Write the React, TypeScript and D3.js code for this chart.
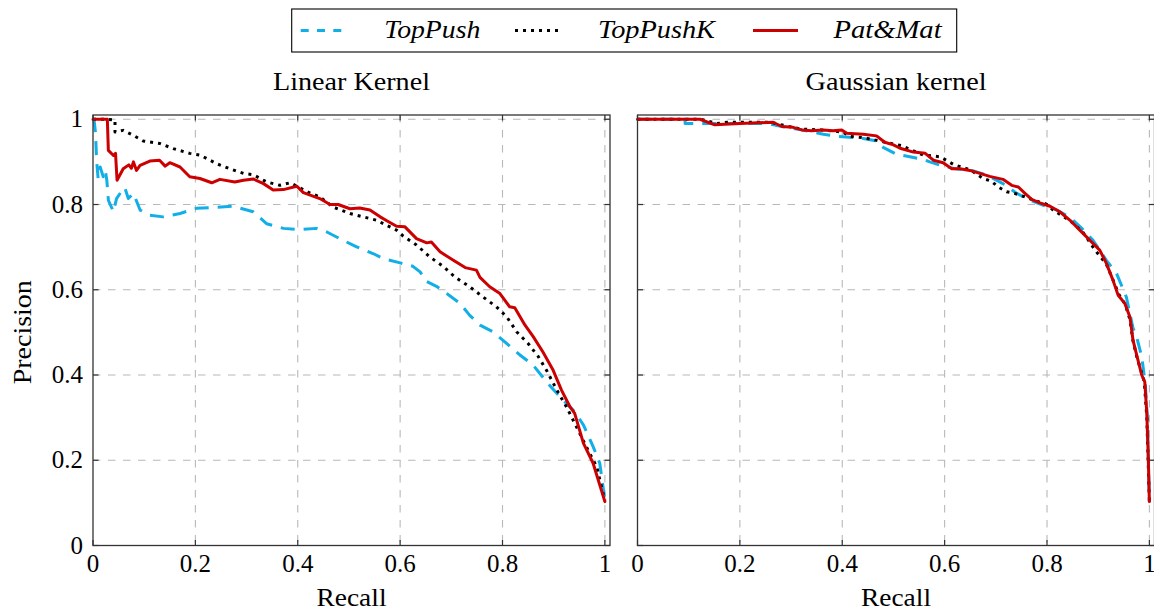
import React from "react";
import * as d3 from "d3";

// ---------- data ----------
const tickValues = [0, 0.2, 0.4, 0.6, 0.8, 1];
const tickLabels = ["0", "0.2", "0.4", "0.6", "0.8", "1"];
const seriesNames = ["TopPush", "TopPushK", "Pat&Mat"];
const panelTitles = ["Linear Kernel", "Gaussian kernel"];

// Linear kernel: [recall, precision]
const linearTopPush: [number, number][] = [
  [0, 1], [0.002, 1], [0.005, 0.966], [0.007, 0.904], [0.01, 0.861], [0.014, 0.888],
  [0.02, 0.865], [0.024, 0.88], [0.027, 0.857], [0.03, 0.81], [0.036, 0.794], [0.04, 0.783],
  [0.046, 0.814], [0.055, 0.83], [0.062, 0.84], [0.069, 0.814], [0.079, 0.826], [0.092, 0.787],
  [0.111, 0.775], [0.137, 0.771], [0.17, 0.779], [0.202, 0.791], [0.235, 0.793], [0.274, 0.796],
  [0.313, 0.783], [0.339, 0.755], [0.372, 0.744], [0.404, 0.741], [0.437, 0.744], [0.456, 0.736],
  [0.482, 0.72], [0.514, 0.701], [0.547, 0.685], [0.567, 0.673], [0.6, 0.663], [0.625, 0.655],
  [0.639, 0.642], [0.652, 0.619], [0.671, 0.608], [0.691, 0.591], [0.717, 0.568], [0.736, 0.54],
  [0.756, 0.517], [0.782, 0.501], [0.808, 0.474], [0.834, 0.447], [0.86, 0.423], [0.886, 0.384],
  [0.906, 0.357], [0.925, 0.333], [0.941, 0.314], [0.958, 0.283], [0.977, 0.232], [0.99, 0.193],
  [1.0, 0.107],
];
const linearTopPushK: [number, number][] = [
  [0, 1], [0.028, 1], [0.043, 0.998], [0.043, 0.97], [0.059, 0.974], [0.079, 0.962],
  [0.098, 0.949], [0.131, 0.943], [0.157, 0.931], [0.189, 0.92], [0.209, 0.916], [0.222, 0.908],
  [0.241, 0.896], [0.267, 0.884], [0.294, 0.873], [0.313, 0.87], [0.339, 0.853], [0.365, 0.845],
  [0.385, 0.851], [0.398, 0.843], [0.424, 0.827], [0.443, 0.818], [0.469, 0.794], [0.502, 0.779],
  [0.528, 0.771], [0.554, 0.763], [0.574, 0.751], [0.593, 0.74], [0.606, 0.726], [0.632, 0.705],
  [0.658, 0.677], [0.684, 0.655], [0.707, 0.63], [0.736, 0.607], [0.762, 0.583], [0.788, 0.56],
  [0.808, 0.537], [0.828, 0.501], [0.85, 0.474], [0.87, 0.443], [0.886, 0.411], [0.906, 0.365],
  [0.925, 0.325], [0.941, 0.287], [0.967, 0.224], [0.984, 0.185], [1.0, 0.105],
];
const linearPatMat: [number, number][] = [
  [0, 1], [0.028, 1], [0.03, 0.927], [0.04, 0.915], [0.044, 0.92], [0.047, 0.857],
  [0.059, 0.884], [0.07, 0.893], [0.075, 0.885], [0.079, 0.9], [0.085, 0.88], [0.092, 0.892],
  [0.111, 0.902], [0.13, 0.904], [0.141, 0.89], [0.15, 0.898], [0.17, 0.888], [0.189, 0.865],
  [0.209, 0.861], [0.232, 0.851], [0.248, 0.859], [0.277, 0.853], [0.294, 0.857], [0.313, 0.86],
  [0.333, 0.849], [0.352, 0.834], [0.372, 0.835], [0.398, 0.843], [0.411, 0.828], [0.443, 0.814],
  [0.463, 0.8], [0.479, 0.8], [0.502, 0.79], [0.521, 0.792], [0.541, 0.787], [0.561, 0.771],
  [0.574, 0.762], [0.593, 0.749], [0.609, 0.748], [0.632, 0.72], [0.652, 0.71], [0.661, 0.712],
  [0.678, 0.689], [0.704, 0.669], [0.727, 0.652], [0.749, 0.646], [0.756, 0.629], [0.775, 0.607],
  [0.795, 0.591], [0.814, 0.56], [0.824, 0.558], [0.844, 0.517], [0.86, 0.49], [0.879, 0.454],
  [0.899, 0.411], [0.915, 0.365], [0.932, 0.325], [0.941, 0.31], [0.958, 0.24], [0.977, 0.193],
  [1.0, 0.103],
];

// Gaussian kernel: [recall, precision]
const gaussTopPush: [number, number][] = [
  [0, 1], [0.093, 1], [0.093, 0.99], [0.125, 0.99], [0.176, 0.99], [0.254, 0.99],
  [0.282, 0.983], [0.33, 0.973], [0.363, 0.965], [0.389, 0.96], [0.421, 0.957], [0.441, 0.955],
  [0.467, 0.949], [0.48, 0.934], [0.506, 0.918], [0.532, 0.912], [0.558, 0.906], [0.571, 0.9],
  [0.597, 0.89], [0.621, 0.884], [0.656, 0.879], [0.682, 0.869], [0.714, 0.849], [0.741, 0.826],
  [0.767, 0.81], [0.793, 0.798], [0.819, 0.787], [0.845, 0.77], [0.868, 0.744], [0.89, 0.716],
  [0.916, 0.669], [0.936, 0.638], [0.955, 0.583], [0.968, 0.51], [0.975, 0.49], [0.985, 0.443],
  [0.992, 0.38], [0.996, 0.3], [0.998, 0.2], [1.0, 0.103],
];
const gaussTopPushK: [number, number][] = [
  [0, 1], [0.124, 1], [0.155, 0.99], [0.176, 0.993], [0.26, 0.993], [0.295, 0.983],
  [0.32, 0.977], [0.36, 0.975], [0.401, 0.97], [0.415, 0.96], [0.441, 0.957], [0.465, 0.951],
  [0.516, 0.938], [0.558, 0.916], [0.591, 0.912], [0.619, 0.893], [0.651, 0.881], [0.675, 0.861],
  [0.691, 0.855], [0.705, 0.841], [0.721, 0.83], [0.737, 0.826], [0.757, 0.818], [0.779, 0.808],
  [0.799, 0.801], [0.812, 0.787], [0.845, 0.762], [0.87, 0.735], [0.894, 0.693], [0.916, 0.66],
  [0.93, 0.62], [0.94, 0.59], [0.953, 0.565], [0.962, 0.53], [0.968, 0.48], [0.976, 0.44],
  [0.99, 0.385], [0.995, 0.3], [1.0, 0.103],
];
const gaussPatMat: [number, number][] = [
  [0, 1], [0.122, 1], [0.151, 0.987], [0.2, 0.99], [0.265, 0.993], [0.282, 0.983],
  [0.304, 0.981], [0.321, 0.975], [0.34, 0.973], [0.363, 0.975], [0.382, 0.973], [0.399, 0.975],
  [0.409, 0.967], [0.441, 0.965], [0.467, 0.961], [0.483, 0.946], [0.5, 0.94], [0.513, 0.932],
  [0.539, 0.923], [0.562, 0.92], [0.578, 0.904], [0.597, 0.898], [0.614, 0.884], [0.63, 0.884],
  [0.649, 0.88], [0.669, 0.873], [0.688, 0.866], [0.714, 0.859], [0.731, 0.845], [0.744, 0.841],
  [0.757, 0.826], [0.77, 0.812], [0.786, 0.804], [0.806, 0.796], [0.825, 0.783], [0.845, 0.763],
  [0.864, 0.74], [0.884, 0.716], [0.903, 0.693], [0.916, 0.662], [0.929, 0.622], [0.939, 0.587],
  [0.952, 0.568], [0.962, 0.536], [0.968, 0.482], [0.976, 0.443], [0.985, 0.4], [0.991, 0.384],
  [0.995, 0.31], [0.998, 0.2], [1.0, 0.103],
];

// ---------- styles ----------
const W = 1154;
const H = 609;
const FONT = "'Liberation Serif', 'Times New Roman', serif";
const FS = 25;
const seriesStyles = [
  { color: "#12aee8", dash: "14 9", legendDash: "8 8.3", cap: "butt" },
  { color: "#000000", dash: "3 5", legendDash: "3 5", cap: "butt" },
  { color: "#cc0000", dash: "none", legendDash: "none", cap: "round" },
];

const plotTop = 115;
const plotBottom = 545.5;
const plotW = 517;

function Panel({ left, series, title, titleLen, showYLabels, showYTitle }: any) {
  const x = d3.scaleLinear().domain([0, 1.01]).range([left, left + plotW]);
  const y = d3.scaleLinear().domain([0, 1.01]).range([plotBottom, plotTop]);
  const line = d3
    .line<[number, number]>()
    .x((d) => x(d[0]))
    .y((d) => y(d[1]));
  const tl = 5.5;
  const cx = left + plotW / 2;
  return (
    <g>
      {/* grid */}
      {tickValues.map((t, i) =>
        t > 0 ? (
          <g key={"g" + i}>
            <line x1={x(t)} x2={x(t)} y1={plotTop} y2={plotBottom} stroke="#b8b8b8" strokeWidth={1.1} strokeDasharray="7.5 7.5" />
            <line x1={left} x2={left + plotW} y1={y(t)} y2={y(t)} stroke="#b8b8b8" strokeWidth={1.1} strokeDasharray="7.5 7.5" />
          </g>
        ) : null
      )}
      {/* ticks */}
      {tickValues.map((t, i) => (
        <g key={"t" + i} stroke="#333" strokeWidth={1.2}>
          <line x1={x(t)} x2={x(t)} y1={plotBottom} y2={plotBottom - tl} />
          <line x1={x(t)} x2={x(t)} y1={plotTop} y2={plotTop + tl} />
          <line x1={left} x2={left + tl} y1={y(t)} y2={y(t)} />
          <line x1={left + plotW} x2={left + plotW - tl} y1={y(t)} y2={y(t)} />
        </g>
      ))}
      {/* curves */}
      {series.map((s: [number, number][], i: number) => (
        <path
          key={"s" + i}
          d={line(s) || ""}
          fill="none"
          stroke={seriesStyles[i].color}
          strokeWidth={3}
          strokeDasharray={seriesStyles[i].dash}
          strokeLinecap={seriesStyles[i].cap as any}
          strokeLinejoin="round"
        />
      ))}
      {/* frame */}
      <rect x={left} y={plotTop} width={plotW} height={plotBottom - plotTop} fill="none" stroke="#333" strokeWidth={1.3} />
      {/* x tick labels */}
      {tickValues.map((t, i) => (
        <text key={"xl" + i} x={x(t)} y={572} textAnchor="middle" fontFamily={FONT} fontSize={FS}>
          {tickLabels[i]}
        </text>
      ))}
      {showYLabels &&
        tickValues.map((t, i) => (
          <text key={"yl" + i} x={83} y={y(t) + 8} textAnchor="end" fontFamily={FONT} fontSize={FS}>
            {tickLabels[i]}
          </text>
        ))}
      <text
        x={cx}
        y={89.5}
        textAnchor="middle"
        fontFamily={FONT}
        fontSize={FS}
        textLength={titleLen}
        lengthAdjust="spacingAndGlyphs"
      >
        {title}
      </text>
      <text
        x={cx}
        y={606}
        textAnchor="middle"
        fontFamily={FONT}
        fontSize={FS}
        textLength={70}
        lengthAdjust="spacingAndGlyphs"
      >
        Recall
      </text>
      {showYTitle && (
        <text
          transform={`translate(30.5, ${(plotTop + plotBottom) / 2 + 2}) rotate(-90)`}
          textAnchor="middle"
          fontFamily={FONT}
          fontSize={FS}
          textLength={104}
          lengthAdjust="spacingAndGlyphs"
        >
          Precision
        </text>
      )}
    </g>
  );
}

function Legend() {
  const entries = [
    { x1: 300.7, x2: 341.5, tx: 384.3, len: 96 },
    { x1: 515, x2: 560, tx: 598, len: 117 },
    { x1: 753, x2: 798, tx: 833.6, len: 108 },
  ];
  return (
    <g>
      <rect x={291.7} y={9} width={665} height={43} fill="#fff" stroke="#000" strokeWidth={1.1} />
      {entries.map((e, i) => (
        <g key={i}>
          <line
            x1={e.x1}
            x2={e.x2}
            y1={30.5}
            y2={30.5}
            stroke={seriesStyles[i].color}
            strokeWidth={3}
            strokeDasharray={seriesStyles[i].legendDash}
          />
          <text
            x={e.tx}
            y={38.3}
            fontFamily={FONT}
            fontStyle="italic"
            fontSize={FS}
            textLength={e.len}
            lengthAdjust="spacingAndGlyphs"
          >
            {seriesNames[i]}
          </text>
        </g>
      ))}
    </g>
  );
}

export default function App() {
  return (
    <svg
      width={W}
      height={H}
      viewBox={`0 0 ${W} ${H}`}
      style={{ position: "fixed", left: 0, top: 0, background: "#fff" }}
    >
      <rect x={0} y={0} width={W} height={H} fill="#fff" />
      <Panel
        left={93}
        series={[linearTopPush, linearTopPushK, linearPatMat]}
        title={panelTitles[0]}
        titleLen={157}
        showYLabels
        showYTitle
      />
      <Panel
        left={637.5}
        series={[gaussTopPush, gaussTopPushK, gaussPatMat]}
        title={panelTitles[1]}
        titleLen={181}
        showYLabels={false}
        showYTitle={false}
      />
      <Legend />
    </svg>
  );
}
